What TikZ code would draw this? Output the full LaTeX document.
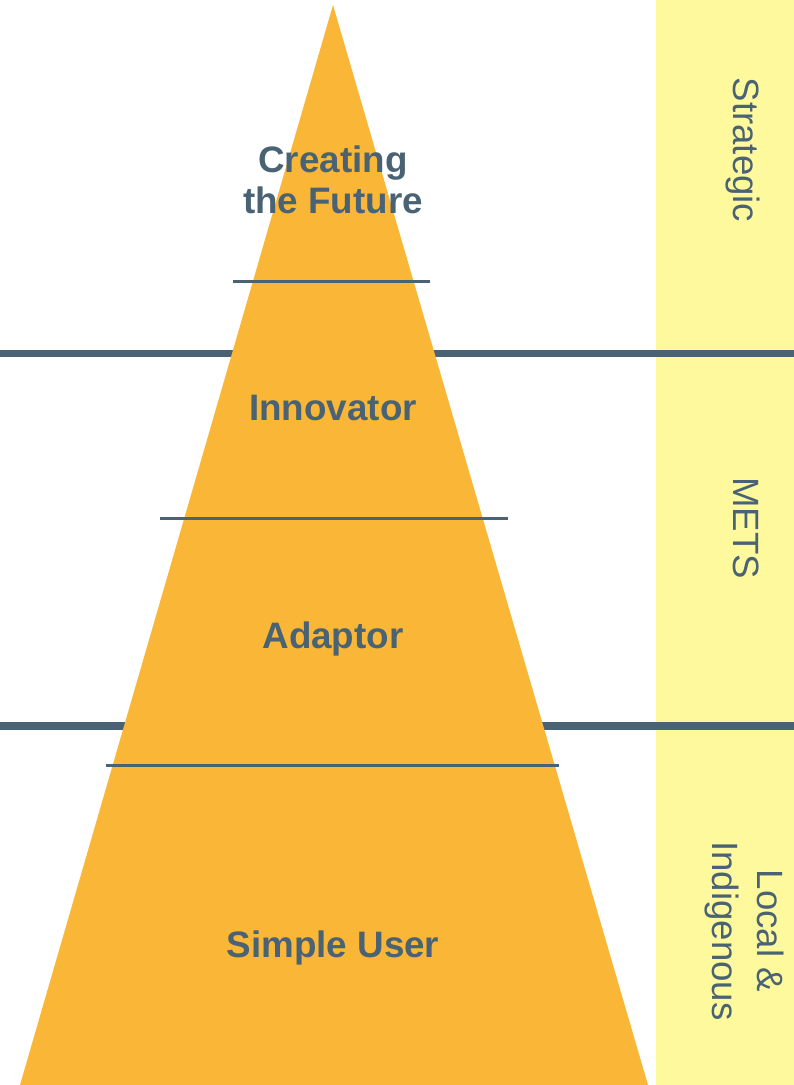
\documentclass[tikz,border=0pt]{standalone}
\usepackage{fontspec}
\setmainfont{Liberation Sans}
\definecolor{pyrorange}{RGB}{249,182,55}
\definecolor{slate}{RGB}{74,99,116}
\definecolor{bandyellow}{RGB}{255,249,157}
\begin{document}
\begin{tikzpicture}[x=1pt,y=-1pt,
  levellabel/.style={font=\fontsize{36.8}{41}\selectfont\bfseries, text=slate, inner sep=0pt, anchor=base},
  bandlabel/.style={font=\fontsize{36.6}{45}\selectfont, text=slate, inner sep=0pt, anchor=base, rotate=-90},
  thickrule/.style={draw=slate, line width=7pt},
  thinrule/.style={draw=slate, line width=2.5pt}]
\useasboundingbox (0,0) rectangle (794,1085);
\clip (0,0) rectangle (794,1085);
% band
\fill[bandyellow] (656,0) rectangle (794,1085);
% thick separators
\coordinate (t1l) at (0,353.3); \coordinate (t1r) at (794,353.3);
\coordinate (t2l) at (0,726); \coordinate (t2r) at (794,726);
\draw[thickrule] (t1l) -- (t1r);
\draw[thickrule, line width=8pt] (t2l) -- (t2r);
% pyramid
\coordinate (apex) at (333,5);
\coordinate (bl) at (20,1085);
\coordinate (br) at (648,1085);
\fill[pyrorange] (apex) -- (br) -- (bl) -- cycle;
% thin level lines
\coordinate (a1) at (233,281.5); \coordinate (a2) at (430,281.5);
\coordinate (b1) at (160,518.7); \coordinate (b2) at (508,518.7);
\coordinate (c1) at (106,765.3); \coordinate (c2) at (559,765.3);
\draw[thinrule] (a1) -- (a2);
\draw[thinrule] (b1) -- (b2);
\draw[thinrule] (c1) -- (c2);
% level labels
\node[levellabel] (cre) at (333,172) {Creating};
\node[levellabel] (fut) at (333,213) {the Future};
\node[levellabel] (inn) at (333,420) {Innovator};
\node[levellabel] (ada) at (333,648) {Adaptor};
\node[levellabel] (sim) at (333,957) {Simple User};
% band labels
\node[bandlabel] (str) at (733,150) {Strategic};
\node[bandlabel] (met) at (733,528) {METS};
\node[bandlabel] (loc) at (757,931) {Local \&};
\node[bandlabel] (ind) at (712,931) {Indigenous};
\end{tikzpicture}
\end{document}
